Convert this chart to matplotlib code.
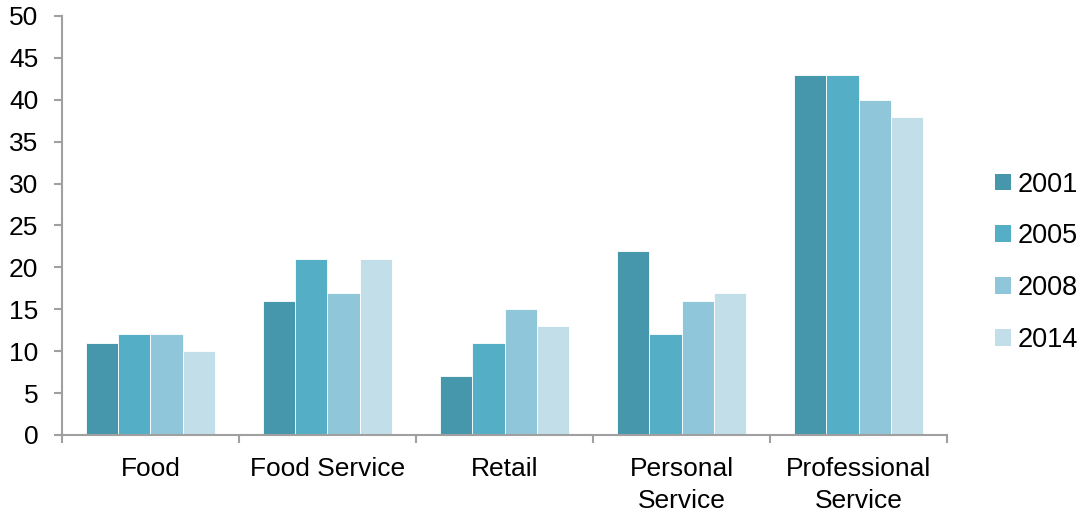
import numpy as np
import matplotlib
matplotlib.use("Agg")
import matplotlib.pyplot as plt
from matplotlib.patches import Patch

categories = ["Food", "Food Service", "Retail", "Personal\nService", "Professional\nService"]
years = ["2001", "2005", "2008", "2014"]
values_2001 = [11, 16, 7, 22, 43]
values_2005 = [12, 21, 11, 12, 43]
values_2008 = [12, 17, 15, 16, 40]
values_2014 = [10, 21, 13, 17, 38]
colors = ["#4697AB", "#54AFC6", "#8FC6D9", "#C2DEE8"]

series = [values_2001, values_2005, values_2008, values_2014]

plt.rcParams["font.family"] = ["Liberation Sans", "DejaVu Sans"]

fig = plt.figure(figsize=(10.78, 5.14), dpi=100)
ax = fig.add_axes([0.0575, 0.1537, 0.8210, 0.8152])

x = np.arange(len(categories))
group_width = 0.725
bar_w = group_width / len(series)
for i, (vals, col, yr) in enumerate(zip(series, colors, years)):
    offs = -group_width / 2 + bar_w * (i + 0.5)
    ax.bar(x + offs, vals, width=bar_w, color=col, edgecolor="white",
           linewidth=0.6, label=yr, zorder=2)

ax.set_xlim(-0.5, len(categories) - 0.5)
ax.set_ylim(0, 50)
ax.set_yticks(np.arange(0, 51, 5))

# category labels centred, tick marks on the boundaries between groups
ax.set_xticks(np.arange(-0.5, len(categories)), minor=False)
ax.set_xticklabels([])
ax.set_xticks(x, minor=True)
ax.set_xticklabels(categories, minor=True, fontsize=19, linespacing=1.42)
ax.tick_params(axis="x", which="minor", length=0, pad=16)
ax.tick_params(axis="x", which="major", length=6, width=1.5, color="#A0A0A0", direction="out")
ax.tick_params(axis="y", length=6, width=1.5, color="#A0A0A0", direction="out",
               labelsize=19, pad=11)

for side in ["top", "right"]:
    ax.spines[side].set_visible(False)
for side in ["left", "bottom"]:
    ax.spines[side].set_color("#A0A0A0")
    ax.spines[side].set_linewidth(1.5)

handles = [Patch(facecolor=c, edgecolor="none", label=y) for c, y in zip(colors, years)]
leg = fig.legend(handles=handles, loc="center left", bbox_to_anchor=(0.923, 0.49),
                 frameon=False, fontsize=19.5, handlelength=0.58, handleheight=0.58,
                 handletextpad=0.25, labelspacing=0.95, borderaxespad=0, borderpad=0)

fig.savefig("out.png", dpi=100)
